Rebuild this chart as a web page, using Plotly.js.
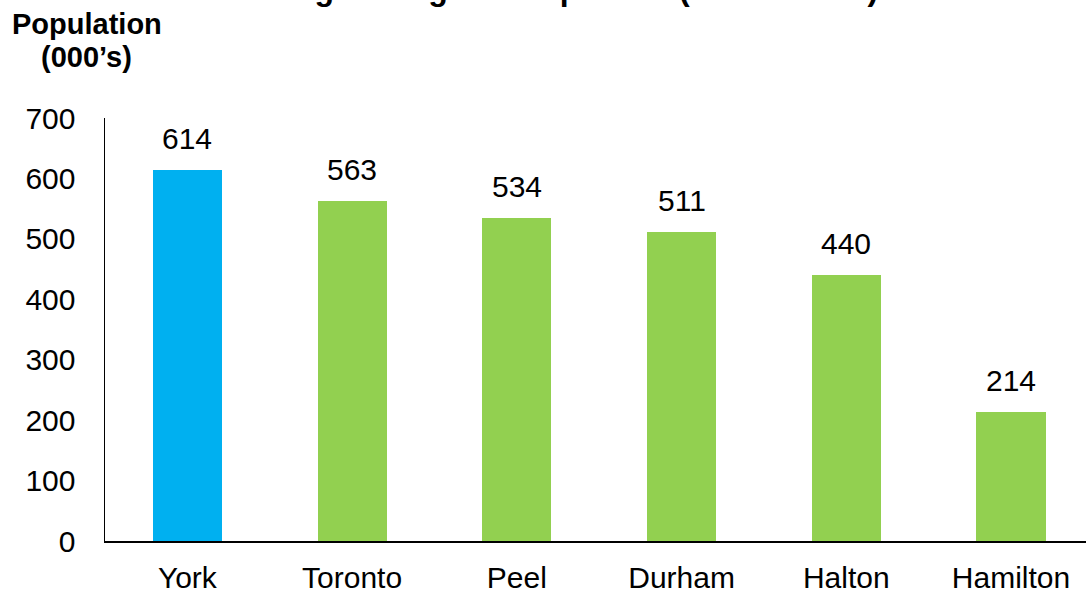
<!DOCTYPE html>
<html>
<head>
<meta charset="utf-8">
<script src="https://cdn.plot.ly/plotly-3.0.1.min.js"></script>
<style>
html,body{margin:0;padding:0;overflow:hidden;background:#fff;}
#chart{width:1086px;height:592px;}
</style>
</head>
<body>
<div id="chart"></div>
<script>
const categories = ["York", "Toronto", "Peel", "Durham", "Halton", "Hamilton"];
const populationGrowth = [614, 563, 534, 511, 440, 214];
const barColors = ["#00B0F0", "#92D050", "#92D050", "#92D050", "#92D050", "#92D050"];
const yTickValues = [0, 100, 200, 300, 400, 500, 600, 700];
const chartTitle = "Ranking among municipalities (2016 – 2041)";
const yAxisTitleLines = ["Population", "(000’s)"];

const FONT = "Liberation Sans, Arial, Helvetica, sans-serif";

const trace = {
  type: "bar",
  x: categories,
  y: populationGrowth,
  width: 0.42,
  marker: { color: barColors, line: { width: 0 } },
  hoverinfo: "x+y"
};

const valueLabels = categories.map((c, i) => ({
  x: c,
  y: populationGrowth[i],
  xref: "x",
  yref: "y",
  text: String(populationGrowth[i]),
  showarrow: false,
  xanchor: "center",
  yanchor: "bottom",
  yshift: 13,
  font: { family: FONT, size: 30, color: "#000" }
}));

const titleLinePx = [24, 57];
const titleLineX = [87, 86];
const yTitleAnnotations = yAxisTitleLines.map((t, i) => ({
  xref: "paper",
  yref: "paper",
  x: (titleLineX[i] - 105) / 981,
  y: (541 - titleLinePx[i]) / 423,
  xanchor: "center",
  yanchor: "middle",
  showarrow: false,
  text: "<b>" + t + "</b>",
  font: { family: FONT, size: 29, color: "#000" }
}));

const layout = {
  width: 1086,
  height: 592,
  margin: { l: 105, r: 0, t: 118, b: 51, pad: 0 },
  paper_bgcolor: "#fff",
  plot_bgcolor: "#fff",
  showlegend: false,
  bargap: 0,
  font: { family: FONT, size: 30, color: "#000" },
  title: {
    text: "<b>" + chartTitle + "</b>",
    font: { family: FONT, size: 32, color: "#000" },
    x: 0.5,
    xref: "container",
    xanchor: "center",
    y: 1,
    yref: "container",
    yanchor: "bottom",
    pad: { t: 0, b: 0, l: 0, r: 0 }
  },
  xaxis: {
    type: "category",
    range: [-0.5, 5.455],
    showgrid: false,
    zeroline: false,
    showline: true,
    linecolor: "#000",
    linewidth: 1.5,
    ticks: "",
    ticklabelstandoff: 9,
    tickfont: { family: FONT, size: 30, color: "#000" },
    fixedrange: true
  },
  yaxis: {
    range: [0, 700],
    tickvals: yTickValues,
    ticktext: yTickValues.map(String),
    showgrid: false,
    zeroline: false,
    showline: true,
    linecolor: "#000",
    linewidth: 1.5,
    ticks: "",
    ticklabelstandoff: 22,
    tickfont: { family: FONT, size: 30, color: "#000" },
    fixedrange: true
  },
  annotations: valueLabels.concat(yTitleAnnotations)
};

Plotly.newPlot("chart", [trace], layout, { displayModeBar: false, staticPlot: true });
</script>
</body>
</html>
